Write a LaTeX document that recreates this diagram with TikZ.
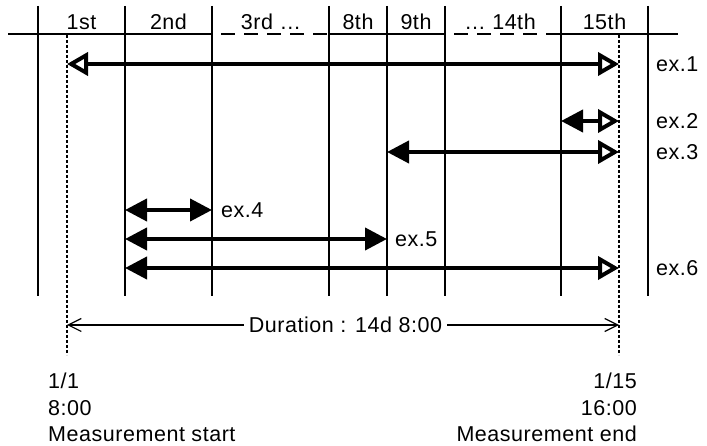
\documentclass[tikz,border=0pt]{standalone}
\usepackage{fontspec}
\setmainfont{Liberation Sans}[LetterSpace=2.5]
\usetikzlibrary{positioning,arrows.meta,calc}

\begin{document}
\begin{tikzpicture}[x=1pt,y=-1pt,
  lab/.style={font=\fontsize{21.5}{24}\selectfont,inner sep=0pt},
  grid/.style={line width=1.3pt},
  run/.style={line width=4pt},
  guide/.style={line width=1.1pt,dash pattern=on 3pt off 2pt},
  gapline/.style={line width=1.3pt,dash pattern=on 14pt off 9pt,dash phase=14pt},
  oarrow/.tip={Triangle[open,length=21pt,width=23pt]},
  farrow/.tip={Triangle[length=22pt,width=22pt]},
  durtip/.tip={Straight Barb[length=13pt,width=13pt]}]
  \useasboundingbox (0,0) rectangle (707,446);
  % columns
  \foreach \x [count=\i] in {38,125,212,329,387,445,561,648}
    \draw[grid] (\x,6) coordinate (t\i) -- (\x,296) coordinate (b\i);
  \coordinate (l0) at (8,34);
  \coordinate (l3) at (212,34);
  \coordinate (l4) at (329,34);
  \coordinate (l6) at (445,34);
  \coordinate (l7) at (561,34);
  \coordinate (l9) at (678,34);
  \draw[grid] (l0) -- (l3);
  \draw[gapline] (l3) -- (l4);
  \draw[grid] (l4) -- (l6);
  \draw[gapline] (l6) -- (l7);
  \draw[grid] (l7) -- (l9);
  \node[lab] (h1) at (81.5,22) {1st};
  \node[lab] (h2) at (168.5,22) {2nd};
  \node[lab] (h3) at (271,22) {3rd …};
  \node[lab] (h4) at (358,22) {8th};
  \node[lab] (h5) at (416,22) {9th};
  \node[lab] (h6) at (500,22) {… 14th};
  \node[lab] (h7) at (604.5,22) {15th};
  % start and end of measurement
  \coordinate (st) at (67,35);
  \coordinate (sb) at (67,355);
  \coordinate (et) at (619,35);
  \coordinate (eb) at (619,355);
  \draw[guide] (st) -- (sb);
  \draw[guide] (et) -- (eb);
  % examples
  \coordinate (a1) at (67,64);   \coordinate (z1) at (619,64);
  \coordinate (a2) at (561,121); \coordinate (z2) at (619,121);
  \coordinate (a3) at (387,152); \coordinate (z3) at (619,152);
  \coordinate (a4) at (125,210); \coordinate (z4) at (212,210);
  \coordinate (a5) at (125,239); \coordinate (z5) at (387,239);
  \coordinate (a6) at (125,268); \coordinate (z6) at (619,268);
  \draw[run,oarrow-oarrow] (a1) -- (z1);
  \draw[run,farrow-oarrow] (a2) -- (z2);
  \draw[run,farrow-oarrow] (a3) -- (z3);
  \draw[run,farrow-farrow] (a4) -- (z4);
  \draw[run,farrow-farrow] (a5) -- (z5);
  \draw[run,farrow-oarrow] (a6) -- (z6);
  \node[lab,anchor=west] (ex1) at (656,64) {ex.1};
  \node[lab,anchor=west] (ex2) at (656,121) {ex.2};
  \node[lab,anchor=west] (ex3) at (656,152) {ex.3};
  \node[lab,anchor=west] (ex4) at (221,210) {ex.4};
  \node[lab,anchor=west] (ex5) at (395,239) {ex.5};
  \node[lab,anchor=west] (ex6) at (656,268) {ex.6};
  % duration
  \coordinate (ds) at (67,325);
  \coordinate (de) at (619,325);
  \node[lab,inner xsep=5pt] (dur) at (345.5,325) {Duration : 14d 8:00};
  \draw[grid,line width=1.2pt,-durtip] (dur.west) -- (ds);
  \draw[grid,line width=1.2pt,-durtip] (dur.east) -- (de);
  % dates
  \node[lab,anchor=west] (d1) at (48,381) {1/1};
  \node[lab,anchor=west] (t1) at (48,408) {8:00};
  \node[lab,anchor=west] (m1) at (48,434) {Measurement start};
  \node[lab,anchor=east] (d2) at (637,381) {1/15};
  \node[lab,anchor=east] (t2) at (637,408) {16:00};
  \node[lab,anchor=east] (m2) at (637,434) {Measurement end};
\end{tikzpicture}
\end{document}
